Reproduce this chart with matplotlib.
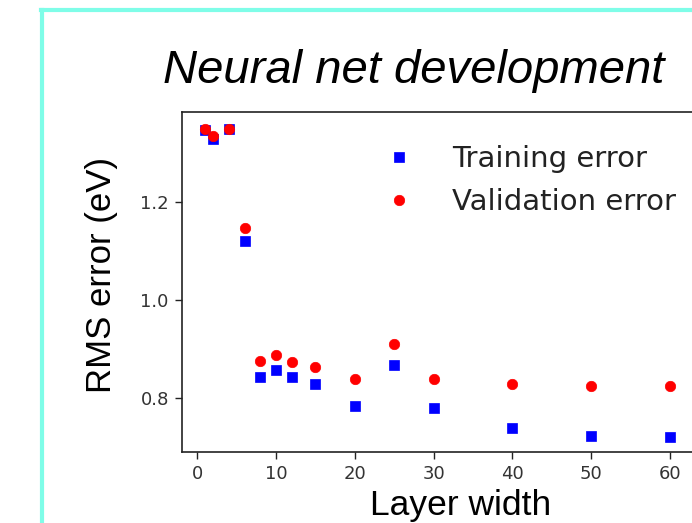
import matplotlib
matplotlib.use("Agg")
import matplotlib.pyplot as plt
from matplotlib.lines import Line2D

## data
layer_width = [1, 2, 4, 6, 8, 10, 12, 15, 20, 25, 30, 40, 50, 60]
train_err = [1.348, 1.329, 1.349, 1.120, 0.843, 0.858, 0.843, 0.829,
             0.784, 0.868, 0.780, 0.739, 0.723, 0.721]
valid_err = [1.349, 1.335, 1.349, 1.147, 0.876, 0.888, 0.873, 0.864,
             0.840, 0.910, 0.840, 0.829, 0.825, 0.825]
x_ticks = [0, 10, 20, 30, 40, 50, 60]
y_ticks = [0.8, 1.0, 1.2]

W, H = 692, 523
fig = plt.figure(figsize=(W / 100, H / 100), dpi=100)

# cyan slide frame
fc = '#7ffde8'
fig.add_artist(Line2D([42 / W, 42 / W], [0, 1 - 10 / H], color=fc, lw=3, transform=fig.transFigure))
fig.add_artist(Line2D([40.5 / W, 1], [1 - 10 / H, 1 - 10 / H], color=fc, lw=3, transform=fig.transFigure))

ax = fig.add_axes([182 / W, 1 - 452 / H, 511 / W, 340 / H])
ax.plot(layer_width, train_err, 's', color='#0000ff', markersize=7.5, markeredgewidth=0.5,
        label='Training error')
ax.plot(layer_width, valid_err, 'o', color='#ff0000', markersize=7.5, markeredgewidth=0.5,
        label='Validation error')

ax.set_xlim(-1.95, 62.95)
ax.set_ylim(0.690, 1.384)
ax.set_xticks(x_ticks)
ax.set_yticks(y_ticks)
ax.set_yticklabels(['0.8', '1.0', '1.2'])
ax.tick_params(labelsize=13, length=5, width=1, pad=4.5, colors='#222222', labelcolor='#333333')
for s in ax.spines.values():
    s.set_linewidth(1.2)
    s.set_color('#222222')

leg = ax.legend(loc='upper left', bbox_to_anchor=(0.317, 0.979), frameon=False,
                numpoints=1, fontsize=21, handlelength=2, handletextpad=0.8)
for t in leg.get_texts():
    t.set_color('#222222')

# slide text
fig.text(163 / W, 1 - 83 / H, 'Neural net development', fontsize=34, style='italic',
         family='Liberation Sans', ha='left', va='baseline')
fig.text(370 / W, 1 - 515 / H, 'Layer width', fontsize=25.5,
         family='Liberation Sans', ha='left', va='baseline')
fig.text(101 / W, 1 - 275 / H, 'RMS error (eV)', fontsize=25, rotation=90,
         family='Liberation Sans', ha='center', va='center')

fig.savefig('out.png', dpi=100)
